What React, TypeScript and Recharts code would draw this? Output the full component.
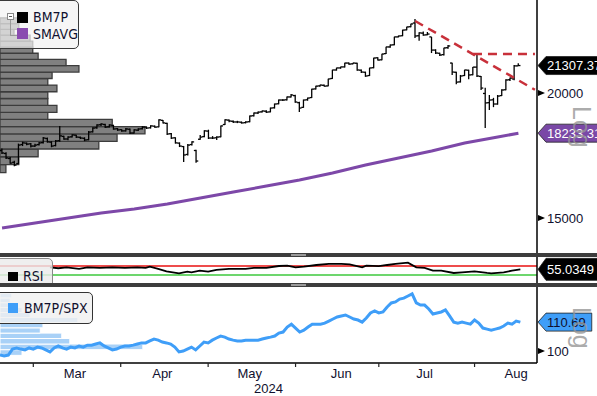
import React from 'react';
import { Bar, ComposedChart, Line, ReferenceArea, ReferenceLine, XAxis, YAxis } from 'recharts';

// ---- data ----
const open = [
  17520, 17400, 17200, 17050, 17000, 17760, 17820, 17790, 17700, 17760,
  17840, 18010, 17860, 17720, 17920, 18100, 17990, 18080, 18150, 18060,
  18020, 17960, 18290, 18460, 18590, 18600, 18500, 18560, 18420, 18380,
  18330, 18400, 18240, 18360, 18420, 18490, 18460, 18530, 18500, 18780,
  18650, 18210, 18040, 17820, 17680, 17360, 17760, 17520, 17980, 18090,
  18320, 18030, 18040, 18080, 18600, 18790, 18740, 18710, 18700, 18680,
  18720, 18980, 19100, 19150, 19180, 19150, 19330, 19510, 19680, 19690,
  19820, 19880, 19560, 19350, 19690, 19790, 20190, 20330, 20360, 20330,
  20680, 21090, 21190, 21240, 21430, 21390, 21420, 21080, 20980, 20820,
  21200, 21690, 21590, 21900, 22240, 22350, 22760, 22820, 23130, 23300,
  23500, 22820, 22960, 22870, 22760, 22080, 21920, 21850, 22200, 21430,
  20980, 20520, 20820, 21080, 20860, 21230, 20780, 19980, 19560, 19690,
  19500, 19880, 20150, 20620, 20660, 21290,
];
const high = [
  17600, 17450, 17260, 17110, 17800, 17880, 17850, 17820, 17790, 17870,
  18070, 18050, 17900, 17950, 18540, 18130, 18100, 18190, 18170, 18090,
  18060, 18320, 18480, 18610, 18660, 18630, 18610, 18590, 18450, 18400,
  18450, 18430, 18400, 18440, 18530, 18520, 18570, 18560, 18830, 18800,
  18680, 18240, 18060, 17850, 17700, 17780, 17900, 17550, 18160, 18360,
  18380, 18110, 18100, 18560, 18830, 18820, 18770, 18760, 18730, 18740,
  18990, 19120, 19170, 19210, 19220, 19340, 19520, 19700, 19720, 19840,
  19950, 19920, 19600, 19700, 19790, 20200, 20340, 20390, 20400, 20670,
  21100, 21200, 21250, 21440, 21460, 21450, 21440, 21110, 21010, 21200,
  21690, 21720, 21890, 22250, 22360, 22770, 22830, 23140, 23300, 23460,
  23720, 23000, 23040, 23020, 22760, 22120, 21950, 22200, 22340, 21450,
  21000, 20850, 21100, 21100, 21240, 21830, 20800, 20240, 19910, 19780,
  19910, 20180, 20650, 20730, 21330, 21420,
];
const low = [
  17380, 17180, 16990, 16900, 16980, 17700, 17730, 17640, 17660, 17720,
  17800, 17840, 17650, 17690, 17880, 17960, 17940, 18050, 18030, 17990,
  17900, 17940, 18260, 18420, 18540, 18450, 18470, 18380, 18330, 18290,
  18300, 18200, 18220, 18330, 18390, 18410, 18430, 18460, 18480, 18640,
  18160, 17990, 17800, 17660, 17060, 17320, 17720, 17030, 17960, 18060,
  17990, 17990, 17950, 18060, 18580, 18700, 18670, 18660, 18640, 18650,
  18700, 18950, 19060, 19120, 19100, 19130, 19300, 19490, 19640, 19660,
  19790, 19560, 19140, 19330, 19650, 19770, 20160, 20290, 20300, 20310,
  20660, 21060, 21150, 21210, 21350, 21370, 21050, 20950, 20760, 20800,
  21180, 21560, 21570, 21880, 22200, 22330, 22740, 22800, 23110, 23270,
  22700, 22560, 22820, 22850, 21930, 21880, 21780, 21800, 22150, 20850,
  20410, 20490, 20800, 20650, 20840, 20750, 20140, 18450, 19230, 19360,
  19470, 19860, 20130, 20560, 20600, 21280,
];
const close = [
  17420, 17220, 17020, 16940, 17740, 17830, 17780, 17700, 17740, 17830,
  18030, 17870, 17700, 17910, 18120, 17990, 18070, 18160, 18070, 18030,
  17950, 18280, 18450, 18580, 18620, 18490, 18580, 18410, 18370, 18330,
  18410, 18240, 18370, 18410, 18490, 18450, 18540, 18490, 18800, 18670,
  18200, 18030, 17830, 17700, 17340, 17740, 17870, 17100, 18070, 18330,
  18030, 18030, 18070, 18540, 18800, 18750, 18710, 18710, 18670, 18710,
  18970, 19100, 19140, 19190, 19140, 19320, 19500, 19680, 19680, 19820,
  19910, 19590, 19320, 19680, 19770, 20180, 20320, 20370, 20320, 20660,
  21090, 21190, 21240, 21430, 21380, 21430, 21090, 20990, 20800, 21190,
  21680, 21580, 21880, 22240, 22340, 22760, 22810, 23120, 23290, 23450,
  22810, 22970, 22860, 22910, 22080, 21930, 21830, 22190, 22290, 20990,
  20510, 20800, 21090, 20850, 21230, 20800, 20230, 19550, 19680, 19500,
  19860, 20140, 20610, 20700, 21290, 21307.37,
];
// 200-day moving average, [trading day, value]
const smaPoints: [number, number][] = [
  [0, 14654], [8, 14824], [16, 14996], [24, 15168], [32, 15310], [40, 15487],
  [48, 15702], [56, 15920], [64, 16142], [72, 16366], [80, 16634], [88, 16942],
  [96, 17218], [104, 17498], [112, 17824], [120, 18072], [125, 18233.31],
];
const rsiPoints: [number, number][] = [
  [12, 64], [14, 60], [16, 64], [19, 57], [21, 64], [24, 62], [27, 64], [30, 62],
  [33, 64], [35, 62], [36, 67], [38, 57], [40, 46], [43, 37.5], [45, 45], [46, 42],
  [48, 49], [50, 45], [52, 53], [55, 57], [59, 57], [61, 62], [64, 62], [67, 70],
  [69, 71.6], [71, 64], [73, 67], [76, 74.5], [79, 79], [82, 79], [84, 77], [87, 64],
  [88, 71.6], [91, 69], [93, 74.5], [95, 79], [98, 84.7], [100, 64], [102, 62],
  [104, 49], [106, 49], [109, 39], [111, 42], [114, 46], [117, 39], [118, 37.5],
  [121, 42], [123, 49], [125, 55.0349],
];
const ratio = [
  98.6, 98.3, 98.6, 100.7, 101.1, 100.7, 100.4, 101.1, 100.7, 101.4,
  101.1, 100.4, 99.7, 101.1, 101.8, 101.1, 100.7, 101.4, 101.1, 101.8,
  101.4, 102.1, 102.1, 102.5, 102.9, 101.8, 101.1, 100.4, 100.7, 101.4,
  101.8, 101.8, 102.1, 102.5, 102.9, 102.9, 103.6, 104.3, 103.9, 103.2,
  102.9, 102.5, 101.4, 99.7, 100.0, 100.7, 101.4, 100.4, 101.8, 103.2,
  102.9, 103.9, 104.7, 105.4, 105.0, 104.3, 103.9, 103.6, 103.6, 103.9,
  103.9, 103.9, 103.9, 104.3, 104.7, 105.0, 105.4, 106.5, 106.9, 108.8,
  109.9, 108.4, 106.9, 107.6, 108.8, 109.9, 109.9, 109.9, 110.3, 111.1,
  111.9, 112.7, 113.1, 113.5, 112.7, 111.9, 111.5, 110.7, 112.3, 114.3,
  115.1, 114.3, 114.7, 116.7, 118.4, 118.8, 120.0, 120.4, 121.3, 122.2,
  118.4, 117.5, 117.5, 115.9, 113.9, 114.3, 114.7, 115.5, 113.1, 110.7,
  110.3, 110.7, 110.3, 109.9, 111.5, 110.3, 108.4, 108.0, 107.6, 108.0,
  108.4, 109.2, 110.3, 109.9, 111.1, 110.69,
];
// volume at price (price buckets and relative volume)
const vpEdges = [
  16650, 16960, 17270, 17580, 17890, 18200, 18510, 18820, 19130, 19440, 19750, 20060,
  20370, 20680, 20990, 21300, 21610, 21920, 22230, 22540, 22850, 23160, 23470, 23780,
];
const vpVolume = [11, 35, 71, 184, 218, 270, 209, 89, 106, 89, 89, 106, 89, 97, 147, 123, 71, 61, 61, 56, 26, 35, 35];
const rvpEdges = [98.5, 100.5, 102.5, 104.5, 106.5, 108.5, 110.5, 112.5, 114.5, 116.5, 118.5, 120.5, 122.5];
const rvpVolume = [41, 266, 130, 115, 75, 80, 145, 56, 41, 26, 19, 22];

const monthStarts = [8, 29, 50, 71, 91, 114];
const monthMids = [18, 39, 60, 82, 102, 124];
const monthNames = ['Mar', 'Apr', 'May', 'Jun', 'Jul', 'Aug'];

const priceTicks = [15000, 20000];
const lastPrice = 21307.37;
const lastSma = 18233.31;
const lastRsi = 55.0349;
const lastRatio = 110.69;

// ---- layout ----
const W = 597;
const AXIS_W = 60;
const SLOTS = 130;
const TEXT = '#10102e';
const FONT = "'Liberation Sans', Arial, sans-serif";
const NARROW = "'Liberation Sans Narrow', 'DejaVu Sans Condensed', 'Liberation Sans', Arial, sans-serif";

const smaMap = new Map(smaPoints);
const rsiMap = new Map(rsiPoints);
const rows = Array.from({ length: SLOTS }, (_, i) => ({
  i,
  o: open[i] ?? null,
  h: high[i] ?? null,
  l: low[i] ?? null,
  c: close[i] ?? null,
  ohlc: i < close.length ? [low[i], high[i]] : null,
  sma: smaMap.get(i) ?? null,
  rsi: rsiMap.get(i) ?? null,
  ratio: ratio[i] ?? null,
}));

function OhlcShape(props: any) {
  const { x, y, width, height, payload } = props;
  if (!payload || payload.h == null || !isFinite(y) || !isFinite(height)) return null;
  const top = Math.min(y, y + height);
  const bot = Math.max(y, y + height);
  const cx = x + width / 2;
  const span = Math.log(payload.h) - Math.log(payload.l);
  const at = (v: number) => (span > 0 ? top + ((bot - top) * (Math.log(payload.h) - Math.log(v))) / span : top);
  return (
    <g stroke="#000" strokeWidth={1.3}>
      <line x1={cx} x2={cx} y1={top} y2={bot} />
      <line x1={cx - 2.2} x2={cx} y1={at(payload.o)} y2={at(payload.o)} />
      <line x1={cx} x2={cx + 2.2} y1={at(payload.c)} y2={at(payload.c)} />
    </g>
  );
}

function tagWidth(s: string) {
  const digits = s.replace(/[^0-9]/g, '').length;
  return digits * 7.23 + (s.length - digits) * 3.6 + 15;
}

function ValueTag({ x, y, text, fill, color, h = 9 }: any) {
  const w = tagWidth(text);
  return (
    <g>
      <polygon
        points={`${x + 1},${y} ${x + 9},${y - h} ${x + w},${y - h} ${x + w},${y + h} ${x + 9},${y + h}`}
        fill={fill}
        stroke="#222"
        strokeWidth={0.8}
      />
      <text x={x + 10} y={y} dy="0.36em" fontSize={13} fontFamily={FONT} fill={color}>
        {text}
      </text>
    </g>
  );
}

function PlainTick({ x, y, text }: any) {
  return (
    <g>
      <polygon points={`${x + 1},${y - 3} ${x + 8},${y} ${x + 1},${y + 3}`} fill="#000" />
      <text x={x + 10} y={y} dy="0.36em" fontSize={13} fontFamily={FONT} fill={TEXT}>
        {text}
      </text>
    </g>
  );
}

function PriceTick(p: any) {
  const v = p.payload.value;
  if (v === lastPrice) return <ValueTag x={p.x} y={p.y} text={lastPrice.toFixed(2)} fill="#000" color="#fff" />;
  if (v === lastSma) return <ValueTag x={p.x} y={p.y} text={lastSma.toFixed(2)} fill="#7a48a6" color="#fff" />;
  return <PlainTick x={p.x} y={p.y} text={String(v)} />;
}

function RsiTick(p: any) {
  return <ValueTag x={p.x} y={p.y} text={lastRsi.toFixed(4)} fill="#000" color="#fff" h={11} />;
}

function RatioTick(p: any) {
  const v = p.payload.value;
  if (v === lastRatio) return <ValueTag x={p.x} y={p.y} text={lastRatio.toFixed(2)} fill="#3f9ef8" color={TEXT} />;
  return <PlainTick x={p.x} y={p.y} text={String(v)} />;
}

function MonthTick(p: any) {
  const v = p.payload.value;
  if (monthStarts.includes(v)) {
    return <line x1={p.x} x2={p.x} y1={p.y} y2={p.y + 4} stroke="#222" strokeWidth={1.2} />;
  }
  const k = monthMids.indexOf(v);
  return (
    <text x={p.x} y={p.y + 10} textAnchor="middle" dy="0.36em" fontSize={13} fontFamily={FONT} fill={TEXT}>
      {monthNames[k]}
    </text>
  );
}

function Separator({ top }: { top: number }) {
  return (
    <div style={{ position: 'absolute', left: 0, top, width: W, height: 4, background: '#3d3d3d' }}>
      <div style={{ position: 'absolute', left: 291, top: 1, width: 15, height: 2, borderTop: '1px solid #9a9a9a', borderBottom: '1px solid #9a9a9a', boxSizing: 'border-box' }} />
    </div>
  );
}

function LogLabel({ top }: { top: number }) {
  return (
    <div style={{ position: 'absolute', left: 569, top, writingMode: 'vertical-rl', fontSize: 25, lineHeight: '25px', fontFamily: FONT, color: 'rgba(150,150,150,0.8)' }}>
      Log
    </div>
  );
}

const vpRows = vpVolume.map((v, k) => ({ lo: vpEdges[k], hi: vpEdges[k + 1], v }));
const rvpRows = rvpVolume.map((v, k) => ({ lo: rvpEdges[k], hi: rvpEdges[k + 1], v }));

export default function App() {
  return (
    <div style={{ position: 'absolute', left: 0, top: 0, width: W, height: 396, background: '#fff', overflow: 'hidden', fontFamily: FONT }}>
      {/* price panel */}
      <div style={{ position: 'absolute', left: 0, top: 0 }}>
        <ComposedChart width={W} height={253} data={rows} margin={{ top: 0, right: 0, bottom: 0, left: 0 }}>
          <XAxis dataKey="i" type="category" hide />
          <XAxis xAxisId="vp" dataKey="vol" type="number" scale="linear" domain={[0, 1000]} allowDataOverflow hide />
          <YAxis
            orientation="right"
            width={AXIS_W}
            type="number"
            scale="log"
            domain={[13835, 24780]}
            allowDataOverflow
            ticks={[...priceTicks, lastSma, lastPrice]}
            interval={0}
            tick={PriceTick}
            tickLine={false}
            tickSize={0}
            tickMargin={0}
            axisLine={{ stroke: '#000', strokeWidth: 1.5 }}
          />
          {vpRows.map((r) => (
            <ReferenceArea
              key={r.lo}
              xAxisId="vp"
              x1={0}
              x2={r.v}
              y1={r.lo}
              y2={r.hi}
              fill="#808080"
              fillOpacity={1}
              stroke="#3c3c3c"
              strokeWidth={1.3}
              ifOverflow="visible"
            />
          ))}
          <Line dataKey="sma" stroke="#7d48a8" strokeWidth={3} dot={false} connectNulls isAnimationActive={false} />
          <Bar dataKey="ohlc" shape={OhlcShape} isAnimationActive={false} />
          <ReferenceLine
            segment={[{ x: 100, y: 23610 }, { x: 129, y: 20150 }]}
            stroke="#c8303a"
            strokeWidth={2.5}
            strokeDasharray="9 6"
            ifOverflow="visible"
          />
          <ReferenceLine
            segment={[{ x: 114, y: 21880 }, { x: 129, y: 21880 }]}
            stroke="#c8303a"
            strokeWidth={2.5}
            strokeDasharray="9 6"
            ifOverflow="visible"
          />
        </ComposedChart>
      </div>

      {/* price legend */}
      <div style={{ position: 'absolute', left: -1, top: 0, width: 78, height: 47, border: '1px solid #3a3a3a', borderRadius: '0 5px 5px 0', background: 'rgba(243,243,243,0.72)', fontFamily: NARROW, fontSize: 14, color: TEXT }}>
        <div style={{ position: 'absolute', left: 7, top: 12, width: 5, height: 5, border: '1px solid #8a8a8a', background: '#fff' }}>
          <div style={{ position: 'absolute', left: 1, top: 2, width: 3, height: 1, background: '#555' }} />
        </div>
        <div style={{ position: 'absolute', left: 10, top: 19, width: 7, height: 15, borderLeft: '1px solid #999', borderBottom: '1px solid #999' }} />
        <div style={{ position: 'absolute', left: 17, top: 11, width: 11, height: 11, background: '#000' }} />
        <div style={{ position: 'absolute', left: 17, top: 27, width: 11, height: 11, background: '#8a4cb0' }} />
        <div style={{ position: 'absolute', left: 33, top: 8, lineHeight: '16px' }}>BM7P</div>
        <div style={{ position: 'absolute', left: 33, top: 25, lineHeight: '16px' }}>SMAVG</div>
      </div>

      <Separator top={253} />

      {/* RSI panel */}
      <div style={{ position: 'absolute', left: 0, top: 257 }}>
        <ComposedChart width={W} height={26} data={rows} margin={{ top: 0, right: 0, bottom: 0, left: 0 }}>
          <XAxis dataKey="i" type="category" hide />
          <YAxis
            orientation="right"
            width={AXIS_W}
            type="number"
            domain={[-5.6, 110]}
            allowDataOverflow
            ticks={[lastRsi]}
            interval={0}
            tick={RsiTick}
            tickLine={false}
            tickSize={0}
            tickMargin={0}
            axisLine={{ stroke: '#000', strokeWidth: 1.5 }}
          />
          <ReferenceLine y={70} stroke="#e81010" strokeWidth={1.3} />
          <ReferenceLine y={30} stroke="#3cc83c" strokeWidth={1.3} />
          <Line dataKey="rsi" stroke="#000" strokeWidth={1.8} dot={false} connectNulls isAnimationActive={false} />
        </ComposedChart>
      </div>
      <div style={{ position: 'absolute', left: -1, top: 258, width: 52, height: 27, border: '1px solid #8a8a8a', borderRadius: '0 5px 0 0', background: 'rgba(236,236,236,0.82)', fontFamily: NARROW, fontSize: 14, color: TEXT }}>
        <div style={{ position: 'absolute', left: 8, top: 13, width: 10, height: 9, background: '#000' }} />
        <div style={{ position: 'absolute', left: 23, top: 9, lineHeight: '16px' }}>RSI</div>
      </div>

      <Separator top={283} />

      {/* relative performance panel */}
      <div style={{ position: 'absolute', left: 0, top: 287 }}>
        <ComposedChart width={W} height={109} data={rows} margin={{ top: 0, right: 0, bottom: 0, left: 0 }}>
          <XAxis
            dataKey="i"
            type="category"
            height={33}
            ticks={[...monthStarts, ...monthMids]}
            interval={0}
            tick={MonthTick}
            tickLine={false}
            tickSize={0}
            tickMargin={0}
            axisLine={{ stroke: '#000', strokeWidth: 1.5 }}
            label={{ value: '2024', position: 'insideBottom', offset: 3, fontSize: 13, fill: TEXT, fontFamily: FONT }}
          />
          <XAxis xAxisId="vp" dataKey="vol" type="number" scale="linear" domain={[0, 1000]} allowDataOverflow hide />
          <YAxis
            orientation="right"
            width={AXIS_W}
            type="number"
            scale="log"
            domain={[95.9, 125.2]}
            allowDataOverflow
            ticks={[100, lastRatio]}
            interval={0}
            tick={RatioTick}
            tickLine={false}
            tickSize={0}
            tickMargin={0}
            axisLine={{ stroke: '#000', strokeWidth: 1.5 }}
          />
          {rvpRows.map((r) => (
            <ReferenceArea
              key={r.lo}
              xAxisId="vp"
              x1={0}
              x2={r.v}
              y1={r.lo}
              y2={r.hi}
              fill="#a9d1f7"
              fillOpacity={1}
              stroke="#fff"
              strokeWidth={1}
              ifOverflow="visible"
            />
          ))}
          <Line dataKey="ratio" stroke="#3f9ef8" strokeWidth={3} dot={false} isAnimationActive={false} />
        </ComposedChart>
      </div>
      <div style={{ position: 'absolute', left: -1, top: 292, width: 92, height: 30, border: '1px solid #333', borderRadius: '0 5px 5px 0', background: 'rgba(240,240,240,0.8)', fontFamily: NARROW, fontSize: 14, color: TEXT }}>
        <div style={{ position: 'absolute', left: 8, top: 10, width: 10, height: 10, background: '#3f9ef8' }} />
        <div style={{ position: 'absolute', left: 24, top: 7, lineHeight: '16px' }}>BM7P/SPX</div>
      </div>

      <LogLabel top={106} />
      <LogLabel top={307} />
    </div>
  );
}
